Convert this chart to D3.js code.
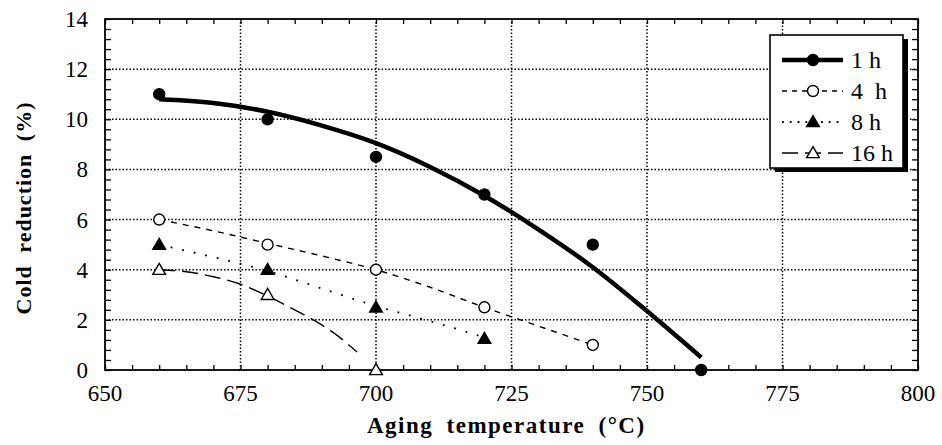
<!DOCTYPE html>
<html>
<head>
<meta charset="utf-8">
<script src="https://cdn.jsdelivr.net/npm/d3@7"></script>
</head>
<body style="margin:0">
<script>
//measured points
var temps1 = [660, 680, 700, 720, 740, 760],
    vals1 = [11, 10, 8.5, 7, 5, 0];
var temps4 = [660, 680, 700, 720, 740],
    vals4 = [6, 5, 4, 2.5, 1];
var temps8 = [660, 680, 700, 720],
    vals8 = [5, 4, 2.5, 1.25];
var temps16 = [660, 680, 700],
    vals16 = [4, 3, 0];

//hand-drawn trend lines
var fitT1 = [660, 670, 680, 690, 700, 710, 720, 730, 740, 750, 760],
    fitV1 = [10.8, 10.65, 10.3, 9.75, 9.05, 8.1, 6.95, 5.6, 4.1, 2.35, 0.5];
var fitT4 = [660, 670, 680, 690, 700, 710, 720, 730, 740],
    fitV4 = [6.0, 5.55, 5.05, 4.55, 4.0, 3.3, 2.5, 1.75, 1.0];
var fitT8 = [660, 670, 680, 690, 700, 710, 720],
    fitV8 = [5.0, 4.5, 3.95, 3.25, 2.55, 1.95, 1.3];
var fitT16 = [660, 665, 670, 675, 680, 685, 690, 693, 696.5],
    fitV16 = [4.0, 3.92, 3.72, 3.42, 2.95, 2.4, 1.8, 1.35, 0.72];

var xTicks = [650, 675, 700, 725, 750, 775, 800],
    yTicks = [0, 2, 4, 6, 8, 10, 12, 14];
var legendLabels = ["1 h", "4\u00a0\u00a0h", "8 h", "16 h"];

var width = 942, height = 445;
var margin = {left: 105, top: 19, right: 24, bottom: 75};
var fontCss = "font-family: 'Liberation Serif', serif !important;";

var svg = d3.select("body").append("svg")
    .attr("width", width)
    .attr("height", height)
    .attr("font-family", "Liberation Serif");

var x = d3.scaleLinear().domain([650, 800]).range([margin.left, width - margin.right]);
var y = d3.scaleLinear().domain([0, 14]).range([height - margin.bottom, margin.top]);

//grid
svg.selectAll(".gridY")
    .data(yTicks.slice(1, -1))
    .enter().append("line")
    .attr("x1", x(650)).attr("x2", x(800))
    .attr("y1", d => y(d)).attr("y2", d => y(d))
    .attr("stroke", "#000").attr("stroke-width", 1.5)
    .attr("stroke-dasharray", "1.5,2");
svg.selectAll(".gridX")
    .data(xTicks.slice(1, -1))
    .enter().append("line")
    .attr("y1", y(0)).attr("y2", y(14))
    .attr("x1", d => x(d)).attr("x2", d => x(d))
    .attr("stroke", "#000").attr("stroke-width", 1.5)
    .attr("stroke-dasharray", "1.5,2");

//minor ticks, inside on all sides
var minorX = d3.range(650, 801, 5),
    minorY = d3.range(0, 14.01, 0.4);
svg.append("g").attr("transform", `translate(0,${y(0)})`)
    .call(d3.axisBottom(x).tickValues(minorX).tickSize(-5).tickFormat(""))
    .call(g => g.select(".domain").remove());
svg.append("g").attr("transform", `translate(0,${y(14)})`)
    .call(d3.axisTop(x).tickValues(minorX).tickSize(-5).tickFormat(""))
    .call(g => g.select(".domain").remove());
svg.append("g").attr("transform", `translate(${x(650)},0)`)
    .call(d3.axisLeft(y).tickValues(minorY).tickSize(-6).tickFormat(""))
    .call(g => g.select(".domain").remove());
svg.append("g").attr("transform", `translate(${x(800)},0)`)
    .call(d3.axisRight(y).tickValues(minorY).tickSize(-6).tickFormat(""))
    .call(g => g.select(".domain").remove());
svg.selectAll(".tick line").attr("stroke-width", 1.3);

//frame
svg.append("rect")
    .attr("x", x(650)).attr("y", y(14))
    .attr("width", x(800) - x(650)).attr("height", y(0) - y(14))
    .attr("fill", "none").attr("stroke", "#000").attr("stroke-width", 1.8);

//tick labels
var labels = svg.append("g").attr("font-size", 23);
labels.selectAll(".xlab")
    .data(xTicks)
    .enter().append("text")
    .attr("style", fontCss)
    .attr("x", d => x(d)).attr("y", 401)
    .attr("text-anchor", "middle")
    .text(d => d);
labels.selectAll(".ylab")
    .data(yTicks)
    .enter().append("text")
    .attr("style", fontCss)
    .attr("x", 88).attr("y", d => y(d) + 8)
    .attr("text-anchor", "end")
    .text(d => d);

//axis titles
svg.append("text")
    .attr("style", fontCss)
    .attr("x", 367).attr("y", 433)
    .attr("font-size", 23).attr("font-weight", "bold")
    .attr("letter-spacing", 1.5).attr("word-spacing", 6)
    .text("Aging temperature (°C)");
svg.append("text")
    .attr("style", fontCss)
    .attr("transform", "translate(31,208) rotate(-90)")
    .attr("text-anchor", "middle")
    .attr("font-size", 22).attr("font-weight", "bold")
    .attr("letter-spacing", 1).attr("word-spacing", 6)
    .text("Cold reduction (%)");

//series
var line = d3.line()
    .x(d => x(d[0])).y(d => y(d[1]))
    .curve(d3.curveMonotoneX);

var series = [
    {t: temps1, v: vals1, ft: fitT1, fv: fitV1, width: 4.5, dash: null, marker: "circle", fill: "#000"},
    {t: temps4, v: vals4, ft: fitT4, fv: fitV4, width: 1.4, dash: "6,6", marker: "circle", fill: "#fff"},
    {t: temps8, v: vals8, ft: fitT8, fv: fitV8, width: 1.8, dash: "1.8,10", marker: "triangle", fill: "#000"},
    {t: temps16, v: vals16, ft: fitT16, fv: fitV16, width: 1.4, dash: "16,7", marker: "triangle", fill: "#fff"}
];

var tri = d3.symbol().type(d3.symbolTriangle).size(70);

function drawMarker(g, s, px, py){
    if (s.marker == "circle"){
        g.append("circle")
            .attr("cx", px).attr("cy", py)
            .attr("r", 5.5)
            .attr("fill", s.fill).attr("stroke", "#000").attr("stroke-width", 1.4);
    } else {
        g.append("path")
            .attr("d", tri)
            .attr("transform", `translate(${px},${py + 1})`)
            .attr("fill", s.fill).attr("stroke", "#000").attr("stroke-width", 1.4);
    }
}

series.forEach(function(s){
    var fit = s.ft.map((t, i) => [t, s.fv[i]]);
    svg.append("path")
        .datum(fit)
        .attr("d", line)
        .attr("fill", "none")
        .attr("stroke", "#000")
        .attr("stroke-width", s.width)
        .attr("stroke-dasharray", s.dash);
    s.t.forEach(function(t, i){
        drawMarker(svg, s, x(t), y(s.v[i]));
    });
});

//legend with drop shadow
var lg = svg.append("g");
lg.append("rect")
    .attr("x", 775).attr("y", 39)
    .attr("width", 133).attr("height", 133)
    .attr("fill", "#000");
lg.append("rect")
    .attr("x", 770).attr("y", 35)
    .attr("width", 133).attr("height", 133)
    .attr("fill", "#fff").attr("stroke", "#000").attr("stroke-width", 1.6);

var legendY = [60, 91, 122, 153];
series.forEach(function(s, i){
    var ly = legendY[i];
    lg.append("line")
        .attr("x1", 782).attr("x2", 843)
        .attr("y1", ly).attr("y2", ly)
        .attr("stroke", "#000")
        .attr("stroke-width", s.width)
        .attr("stroke-dasharray", i == 2 ? "1.8,6" : (i == 1 ? "5,5" : s.dash));
    drawMarker(lg, s, 813, ly);
    lg.append("text")
        .attr("style", fontCss)
        .attr("x", 851).attr("y", ly + 8)
        .attr("font-size", 24)
        .text(legendLabels[i]);
});
</script>
</body>
</html>
